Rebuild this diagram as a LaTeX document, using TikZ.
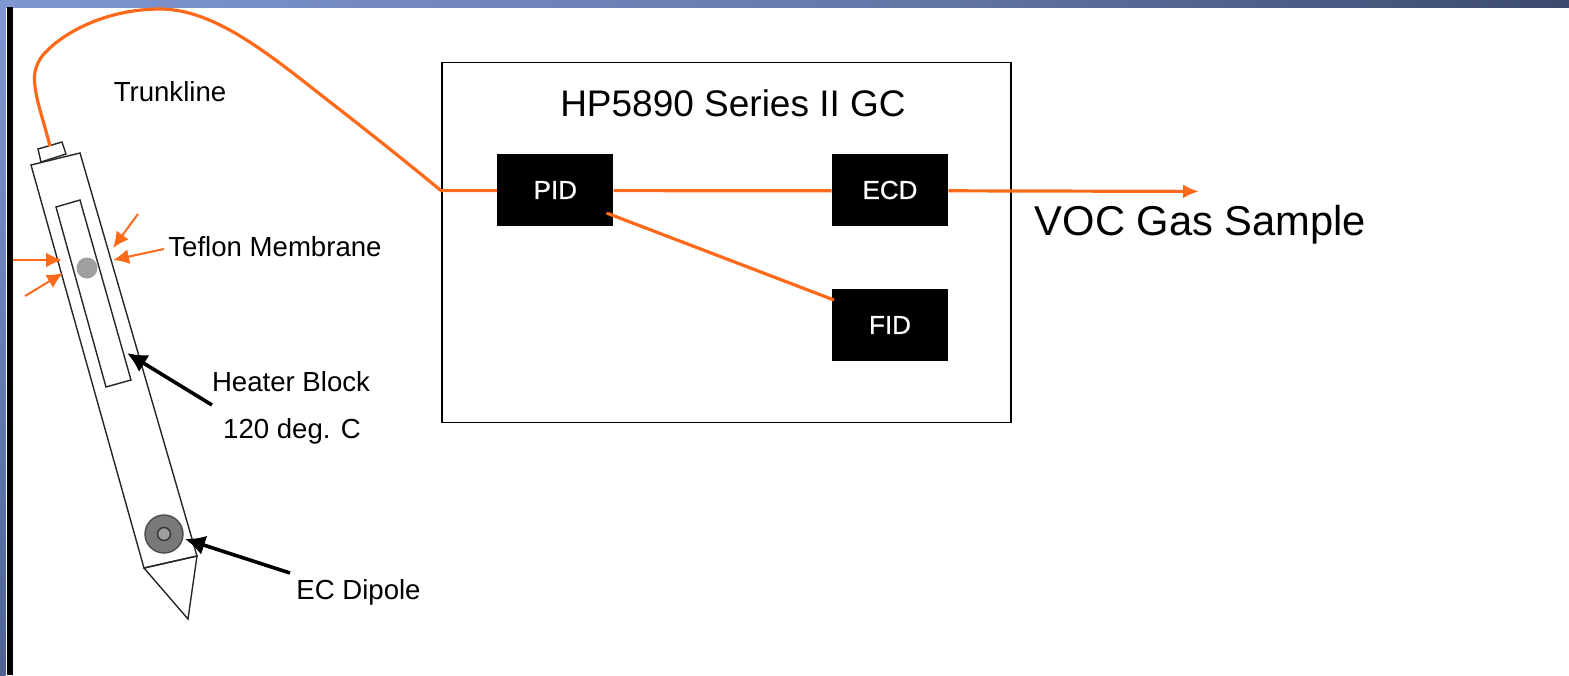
\documentclass[tikz,border=0pt]{standalone}
\usepackage{fontspec}
\setmainfont{Liberation Sans}
\newfontfamily\semib[FakeBold=0.7]{Liberation Sans}
\usetikzlibrary{arrows.meta}
\definecolor{ora}{HTML}{FF6A1A}
\definecolor{barA}{HTML}{7F96D2}
\definecolor{barB}{HTML}{6478A8}
\definecolor{barC}{HTML}{3C4A6E}
\definecolor{barD}{HTML}{4E6392}
\tikzset{
  outl/.style={draw=black!85,line width=0.7pt,line join=miter},
  box/.style={draw=none,fill=black,minimum width=58pt,minimum height=36pt,inner sep=0pt,text=white,font=\fontsize{13}{15}\semib},
  lab/.style={inner sep=0pt,text=black,font=\fontsize{13.8}{16}\selectfont},
  orl/.style={draw=ora,line width=1.6pt},
  orthin/.style={draw=ora,line width=1pt,-{Latex[length=8pt,width=7.5pt]}},
  blk/.style={draw=black,line width=1.8pt,-{Latex[length=10pt,width=10pt]}}
}
\begin{document}
\begin{tikzpicture}[x=0.5pt,y=-0.5pt]
\useasboundingbox (0,0) rectangle (1569,675);
\fill[white] (0,0) rectangle (1569,675);
% frame
\shade[left color=barA,right color=barB] (0,0) rectangle (900,7);
\shade[left color=barB,right color=barC] (900,0) rectangle (1569,7);
\shade[top color=barA,bottom color=barD] (0,7) rectangle (5.5,675);
\fill[black] (7,7) rectangle (12.5,675);
% probe
\draw[outl,fill=white] (38,149) -- (62,142) -- (66,154) -- (41,162) -- cycle;
\draw[outl] (31,165) -- (80,153) -- (197,556) -- (144,568) -- cycle;
\draw[outl] (56,207) -- (80,200) -- (131,380) -- (106,387) -- cycle;
\draw[outl] (144,568) -- (197,556) -- (188,619) -- cycle;
\fill[gray!75] (87,268) circle (10.5);
\draw[draw=black!70,fill=gray!95!black,line width=0.7pt] (164,534) circle (19);
\draw[draw=black!80,fill=gray!75,line width=0.7pt] (164,534) circle (6.5);
% nodes
\node[draw=black,line width=0.8pt,minimum width=284.5pt,minimum height=180pt,inner sep=0pt] (gc) at (726.5,242.5) {};
\node[box] (pid) at (555.3,190) {PID};
\node[box] (ecd) at (890,190) {ECD};
\node[box] (fid) at (890,325) {FID};
\node[inner sep=0pt,font=\fontsize{18.5}{22}\selectfont] (gct) at (733,103) {HP5890 Series II GC};
\node[inner sep=0pt,font=\fontsize{20.85}{24}\selectfont] (voc) at (1200.5,225) {VOC Gas Sample};
\node[lab] (trunk) at (170,92) {Trunkline};
\node[lab] (tef) at (275,247) {Teflon Membrane};
\node[lab] (heat) at (291,382) {Heater Block};
\node[lab] (deg) at (292,431) {120 deg. C};
\node[lab] (ec) at (358.5,592) {EC Dipole};
% connectors
\coordinate (top) at (50,146);
\coordinate (gcin) at (441,190.6);
\coordinate (out) at (1199,191.4);
\coordinate (pidb) at (606.5,213);
\coordinate (fidt) at (834,300);
\draw[orl] (top) .. controls (43,118) and (32,90) .. (35,72)
  .. controls (36.5,65) and (39,60) .. (43,55)
  .. controls (65,30) and (110,9) .. (160,9)
  .. controls (215,9) and (270,55) .. (330,102)
  .. controls (370,133) and (410,165) .. (gcin) -- ([yshift=-0.3pt]pid.west);
\draw[orl] ([yshift=-0.3pt]pid.east) -- ([yshift=-0.4pt]ecd.west);
\draw[orl,-{Latex[length=8pt,width=7pt]}] ([yshift=-0.4pt]ecd.east) -- (out);
\draw[orl] (pidb) -- (fidt);
\coordinate (a1) at (138,214); \coordinate (a1e) at (113,248);
\coordinate (a2) at (164,249); \coordinate (a2e) at (113,260);
\coordinate (a3) at (13,260); \coordinate (a3e) at (62,260);
\coordinate (a4) at (25,296); \coordinate (a4e) at (63,273);
\draw[orthin] (a1) -- (a1e);
\draw[orthin] (a2) -- (a2e);
\draw[orthin] (a3) -- (a3e);
\draw[orthin] (a4) -- (a4e);
\coordinate (b1) at (212,405); \coordinate (b1e) at (127,353);
\coordinate (b2) at (290,573); \coordinate (b2e) at (185,539);
\draw[blk] (b1) -- (b1e);
\draw[blk] (b2) -- (b2e);
\end{tikzpicture}
\end{document}
